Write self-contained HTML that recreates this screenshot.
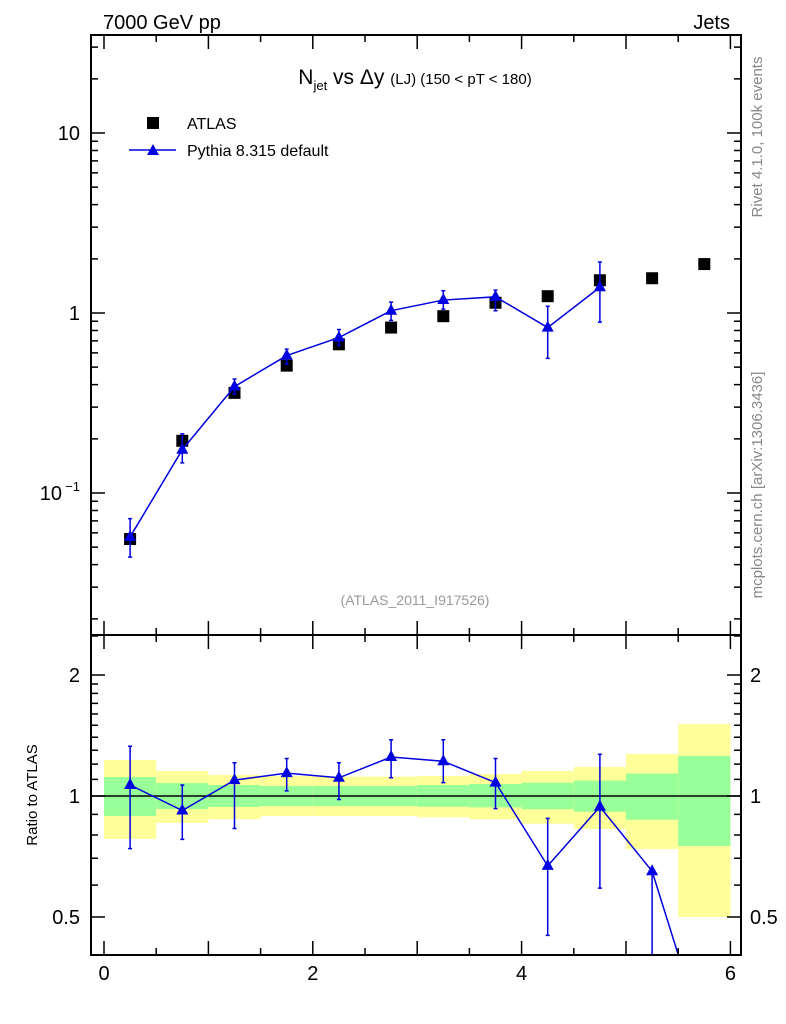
<!DOCTYPE html>
<html><head><meta charset="utf-8"><style>
html,body{margin:0;padding:0;background:#fff;width:786px;height:1024px;overflow:hidden}
svg{display:block;font-family:"Liberation Sans",sans-serif}
</style></head><body>
<svg id="c" width="786" height="1024" viewBox="0 0 786 1024" xmlns="http://www.w3.org/2000/svg">
<g id="bands"></g>
<g id="marks"></g>
<rect x="91" y="35" width="650" height="600" fill="none" stroke="#000" stroke-width="2"/>
<rect x="91" y="635" width="650" height="320" fill="none" stroke="#000" stroke-width="2"/>
<g id="ticks" stroke="#000" stroke-width="1.5"></g>
<text x="103" y="29" font-size="20">7000 GeV pp</text>
<text x="730" y="29" font-size="20" text-anchor="end">Jets</text>
<text x="415" y="84" font-size="21" text-anchor="middle">N<tspan font-size="13" dy="6">jet</tspan><tspan dy="-6"> vs Δy </tspan><tspan font-size="15">(LJ) (150 &lt; pT &lt; 180)</tspan></text>
<rect x="147" y="117" width="12" height="12" fill="#000"/>
<text x="187" y="129" font-size="16">ATLAS</text>
<line x1="129" y1="150" x2="176" y2="150" stroke="#0000e0" stroke-width="1.5"/>
<polygon points="153,144 147,155 159,155" fill="#0000e0"/>
<text x="187" y="156" font-size="16">Pythia 8.315 default</text>
<text x="415" y="605" font-size="14" fill="#999" text-anchor="middle">(ATLAS_2011_I917526)</text>
<text transform="translate(762,137) rotate(-90)" font-size="15" fill="#888" text-anchor="middle">Rivet 4.1.0,  100k events</text>
<text transform="translate(762,485) rotate(-90)" font-size="15" fill="#888" text-anchor="middle">mcplots.cern.ch [arXiv:1306.3436]</text>
<text transform="translate(37,795) rotate(-90)" font-size="15" text-anchor="middle">Ratio to ATLAS</text>
</svg>
<script>
const xCenters=[0.25,0.75,1.25,1.75,2.25,2.75,3.25,3.75,4.25,4.75,5.25,5.75];
const atlasVals=[0.0555,0.195,0.36,0.51,0.67,0.83,0.96,1.14,1.24,1.52,1.56,1.87];
const pyVals=[0.057,0.174,0.39,0.58,0.73,1.03,1.18,1.23,0.83,1.39];
const pyUp=[0.072,0.213,0.43,0.63,0.81,1.15,1.33,1.34,1.09,1.92];
const pyDn=[0.044,0.147,0.355,0.52,0.66,0.91,1.05,1.03,0.56,0.89];
const ratioVals=[1.065,0.92,1.095,1.14,1.11,1.25,1.22,1.08,0.67,0.94,0.65,0.25];
const ratioUp=[1.33,1.065,1.21,1.24,1.21,1.38,1.38,1.24,0.88,1.27,0.65,0.25];
const ratioDn=[0.74,0.78,0.83,1.03,0.98,1.11,1.08,0.93,0.45,0.59,0.3,0.2];
const yelUp=[1.229,1.154,1.128,1.121,1.117,1.117,1.121,1.134,1.154,1.181,1.272,1.51];
const grnUp=[1.115,1.077,1.065,1.059,1.059,1.059,1.065,1.071,1.079,1.092,1.137,1.258];
const grnDn=[0.892,0.928,0.939,0.944,0.944,0.944,0.94,0.937,0.927,0.914,0.873,0.751];
const yelDn=[0.782,0.857,0.876,0.892,0.892,0.892,0.885,0.876,0.853,0.828,0.738,0.50];
const binW=0.5;
const xTickLabels=["0","2","4","6"];

const NS="http://www.w3.org/2000/svg";
const X=v=>104+104.4*v;
const Y=v=>313-180*Math.log10(v);
const R=v=>796-402*Math.log10(v);
const mk=(tag,at,par)=>{const e=document.createElementNS(NS,tag);for(const k in at)e.setAttribute(k,at[k]);document.getElementById(par).appendChild(e);return e;};

const clip=(y)=>Math.max(636,Math.min(954,y));
xCenters.forEach((x,i)=>{
  const x0=X(x-binW/2),w=X(x+binW/2)-x0;
  let e=mk('rect',{x:x0,y:clip(R(yelUp[i])),width:w,height:clip(R(yelDn[i]))-clip(R(yelUp[i])),fill:'#ffff99'},'bands');
  
  
  e=mk('rect',{x:x0,y:R(grnUp[i]),width:w,height:R(grnDn[i])-R(grnUp[i]),fill:'#99ff99'},'bands');
  
  
});
let u=mk('line',{x1:91,x2:741,y1:R(1),y2:R(1),stroke:'#000','stroke-width':1.5},'bands');



const blue='#0000e0';
const tri=(cx,cy,par)=>mk('polygon',{points:`${cx},${cy-7} ${cx-6},${cy+4} ${cx+6},${cy+4}`,fill:blue},par);

atlasVals.forEach((v,i)=>{
  const e=mk('rect',{x:X(xCenters[i])-6,y:Y(v)-6,width:12,height:12,fill:'#000'},'marks');
  
  
});
let pts=pyVals.map((v,i)=>X(xCenters[i])+','+Y(v)).join(' ');
let pl=mk('polyline',{points:pts,fill:'none',stroke:blue,'stroke-width':1.5},'marks');


pyVals.forEach((v,i)=>{
  const x=X(xCenters[i]);
  const eb=mk('path',{d:`M${x},${Y(pyUp[i])}V${Y(pyDn[i])}M${x-2},${Y(pyUp[i])}h4M${x-2},${Y(pyDn[i])}h4`,stroke:blue,'stroke-width':1.5,fill:'none'},'marks');
  
  
  const t=tri(x,Y(v),'marks');
  
  
});
const cl=document.createElementNS(NS,'clipPath');cl.setAttribute('id','rc');
const cr=document.createElementNS(NS,'rect');cr.setAttribute('x',91);cr.setAttribute('y',635);cr.setAttribute('width',650);cr.setAttribute('height',320);
cl.appendChild(cr);document.getElementById('c').appendChild(cl);
const rg=mk('g',{'clip-path':'url(#rc)'},'marks');rg.setAttribute('id','rg');


pts=ratioVals.map((v,i)=>X(xCenters[i])+','+R(v)).join(' ');
pl=mk('polyline',{points:pts,fill:'none',stroke:blue,'stroke-width':1.5},'rg');


ratioVals.forEach((v,i)=>{
  const x=X(xCenters[i]);
  const eb=mk('path',{d:`M${x},${R(ratioUp[i])}V${R(ratioDn[i])}M${x-2},${R(ratioUp[i])}h4M${x-2},${R(ratioDn[i])}h4`,stroke:blue,'stroke-width':1.5,fill:'none'},'rg');
  
  
  const t=tri(x,R(v),'rg');
  
  
});

let d='';
for(let e=-2;e<=1;e++)for(let m=1;m<10;m++){
  const y=Y(m*Math.pow(10,e)); if(y<36||y>634)continue;
  const L=m==1?14:7; d+=`M91,${y}h${L}M741,${y}h${-L}`;
}
const rt=[0.4,0.5,0.6,0.7,0.8,0.9,1,1.1,1.2,1.3,1.4,1.5,1.6,1.7,1.8,1.9,2,2.5];
rt.forEach(v=>{const y=R(v);if(y<636||y>954)return;const L=(v==0.5||v==1||v==2)?14:7;d+=`M91,${y}h${L}M741,${y}h${-L}`;});
for(let k=0;k<=12;k++){const x=X(k*0.5);const L=k%2==0?14:7;d+=`M${x},955v${-L}M${x},635v${-L}M${x},635v${L}M${x},35v${L}`;}
const tk=mk('path',{d:d,fill:'none'},'ticks');



const txt=(s,at,name)=>{const e=mk('text',at,'ticks');e.setAttribute('stroke','none');e.textContent=s;return e;};
xTickLabels.forEach((s,i)=>txt(s,{x:X(i*2),y:980,'font-size':20,'text-anchor':'middle'},'x-tick-label'));
txt('10',{x:80,y:Y(10)+7,'font-size':20,'text-anchor':'end'},'y-tick-label');
txt('1',{x:80,y:Y(1)+7,'font-size':20,'text-anchor':'end'},'y-tick-label');
txt('10',{x:62,y:Y(0.1)+7,'font-size':20,'text-anchor':'end'},'y-tick-label');
txt('−1',{x:80,y:Y(0.1)-2,'font-size':13,'text-anchor':'end'},'y-tick-exponent');
[['2',2],['1',1],['0.5',0.5]].forEach(([s,v])=>{
  txt(s,{x:80,y:R(v)+7,'font-size':20,'text-anchor':'end'},'ratio-tick-label-left');
  txt(s,{x:750,y:R(v)+7,'font-size':20},'ratio-tick-label-right');
});
</script>
</body></html>
